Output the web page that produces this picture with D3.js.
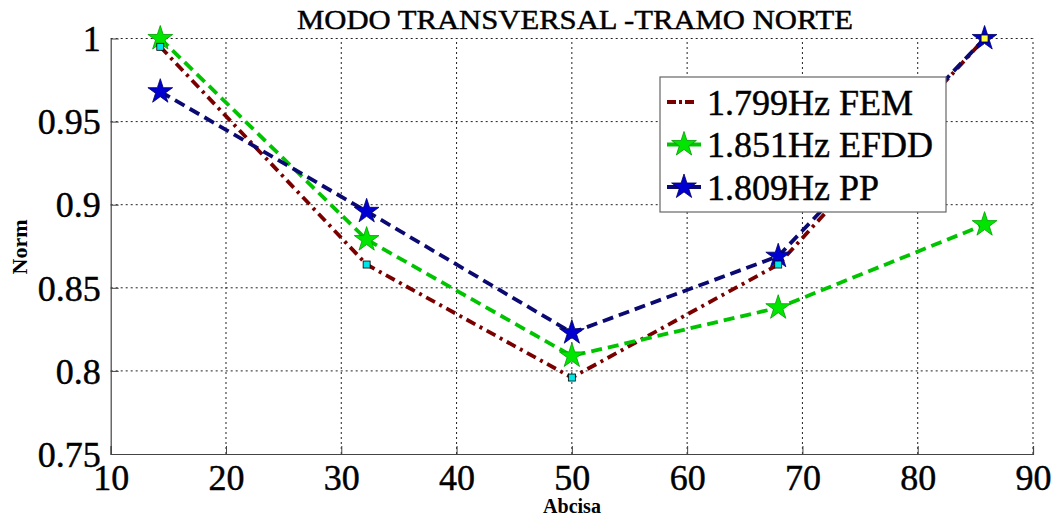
<!DOCTYPE html>
<html>
<head>
<meta charset="utf-8">
<script src="https://cdn.jsdelivr.net/npm/d3@7"></script>
<style>
  html, body { margin: 0; padding: 0; background: #fff; }
  svg { display: block; }
  svg text { font-family: "Liberation Serif", "Times New Roman", serif !important; fill: #000; }
  .heavy { stroke: #000; stroke-width: 0.45px; }
</style>
</head>
<body>
<svg id="chart" width="1060" height="520"></svg>
<script>
// Measurement stations along the deck (abscissa) and normalised mode shape values
const abscisa = [14.3, 32.2, 50.0, 67.9, 85.8];
const femValues = [0.995, 0.864, 0.796, 0.864, 1.000];
const efddValues = [1.000, 0.879, 0.809, 0.838, 0.888];
const ppValues = [0.968, 0.896, 0.823, 0.869, 1.000];

const seriesNames = ["1.799Hz FEM", "1.851Hz EFDD", "1.809Hz PP"];
const xTicks = [10, 20, 30, 40, 50, 60, 70, 80, 90];
const yTicks = [0.75, 0.8, 0.85, 0.9, 0.95, 1];

const titleText = "MODO TRANSVERSAL -TRAMO NORTE";
const xLabel = "Abcisa";
const yLabel = "Norm";

const svg = d3.select("#chart");
const margin = { left: 110.7, right: 1060 - 1033, top: 38.5, bottom: 520 - 454 };
const W = 1060, H = 520;

const x = d3.scaleLinear().domain([10, 90]).range([margin.left, W - margin.right]);
const y = d3.scaleLinear().domain([0.75, 1]).range([H - margin.bottom, margin.top]);

// Dotted grid at every tick (top and right edges are grid lines too)
const grid = svg.append("g");
grid.selectAll("line.vx").data(xTicks.slice(1)).join("line")
  .attr("x1", d => x(d)).attr("x2", d => x(d))
  .attr("y1", y(0.75)).attr("y2", y(1))
  .attr("stroke", "#222").attr("stroke-width", 1).attr("stroke-dasharray", "2,3");
grid.selectAll("line.hy").data(yTicks.slice(1)).join("line")
  .attr("y1", d => y(d)).attr("y2", d => y(d))
  .attr("x1", x(10)).attr("x2", x(90))
  .attr("stroke", "#222").attr("stroke-width", 1).attr("stroke-dasharray", "2,3");

// Axes: solid left and bottom lines with inward ticks
const xAxis = d3.axisBottom(x).tickValues(xTicks).tickSize(-8).tickPadding(12).tickFormat(d3.format("d"));
const yAxis = d3.axisLeft(y).tickValues(yTicks).tickSize(-8).tickPadding(10).tickFormat(d => d === 1 ? "1" : d3.format(".2~f")(d));

const gx = svg.append("g").attr("transform", `translate(0,${y(0.75)})`).call(xAxis);
const gy = svg.append("g").attr("transform", `translate(${x(10)},0)`).call(yAxis);
[gx, gy].forEach(g => {
  g.attr("font-family", null).attr("font-size", null);
  g.select(".domain").attr("stroke", "#444").attr("stroke-width", 1.2);
  g.selectAll(".tick line").attr("stroke", "#444");
  g.selectAll(".tick text").classed("heavy", true).style("font-size", "36px").attr("fill", "#000");
});
gx.selectAll(".tick text").attr("dy", "0.71em").attr("y", 10);
gx.selectAll(".tick line").filter(d => d === 90).remove();
gy.selectAll(".tick line").filter(d => d === 1).remove();
gy.selectAll(".tick text").attr("dy", "0.34em");

// Title and axis labels
svg.append("text").attr("class", "heavy").attr("x", 575).attr("y", 29).attr("text-anchor", "middle")
  .attr("textLength", 556).attr("lengthAdjust", "spacingAndGlyphs")
  .style("font-size", "28px").text(titleText);
svg.append("text").attr("x", 572).attr("y", 513).attr("text-anchor", "middle")
  .style("font-size", "20px").style("font-weight", "bold").text(xLabel);
svg.append("text").attr("transform", "translate(27,247) rotate(-90)").attr("text-anchor", "middle")
  .style("font-size", "22px").style("font-weight", "bold").text(yLabel);

// Series styles
const styles = [
  { values: femValues, color: "#7a0000", dash: "10,5,3,5" },
  { values: efddValues, color: "#00c400", dash: "11,6", star: "#00e600", starEdge: "#009a00" },
  { values: ppValues, color: "#0a0a72", dash: "11,6", star: "#0000d0", starEdge: "#000060" }
];

const line = d3.line().x((d, i) => x(abscisa[i])).y(d => y(d));
styles.forEach(s => {
  svg.append("path").datum(s.values).attr("d", line)
    .attr("fill", "none").attr("stroke", s.color).attr("stroke-width", 3.8)
    .attr("stroke-dasharray", s.dash).attr("stroke-linecap", "butt");
});

const star = d3.symbol().type(d3.symbolStar).size(190);
styles.filter(s => s.star).forEach(s => {
  svg.append("g").selectAll("path").data(s.values).join("path")
    .attr("d", star)
    .attr("transform", (d, i) => `translate(${x(abscisa[i])},${y(d)})`)
    .attr("fill", s.star).attr("stroke", s.starEdge).attr("stroke-width", 0.8);
});

// Square markers on the FEM curve (last station highlighted)
const squareFill = ["#00e5e5", "#00e5e5", "#00e5e5", "#00e5e5", "#ffff40"];
svg.append("g").selectAll("rect").data(femValues).join("rect")
  .attr("x", (d, i) => x(abscisa[i]) - 3.5).attr("y", d => y(d) - 3.5)
  .attr("width", 7).attr("height", 7)
  .attr("fill", (d, i) => squareFill[i]).attr("stroke", "#000").attr("stroke-width", 0.8);

// Legend
const lg = svg.append("g");
lg.append("rect").attr("x", 660).attr("y", 77).attr("width", 286).attr("height", 135)
  .attr("fill", "#fff").attr("stroke", "#666").attr("stroke-width", 1.2);
styles.forEach((s, i) => {
  const ly = 102 + i * 42.5;
  lg.append("line").attr("x1", 667).attr("x2", 701).attr("y1", ly).attr("y2", ly)
    .attr("stroke", s.color).attr("stroke-width", 3.8)
    .attr("stroke-dasharray", i === 0 ? "9,3,3,3,9" : null);
  if (s.star) {
    lg.append("path").attr("d", star).attr("transform", `translate(684,${ly})`)
      .attr("fill", s.star).attr("stroke", s.starEdge).attr("stroke-width", 0.8);
  }
  lg.append("text").attr("class", "heavy").attr("x", 707).attr("y", ly).attr("dy", "0.35em")
    .style("font-size", "36px").text(seriesNames[i]);
});
</script>
</body>
</html>
